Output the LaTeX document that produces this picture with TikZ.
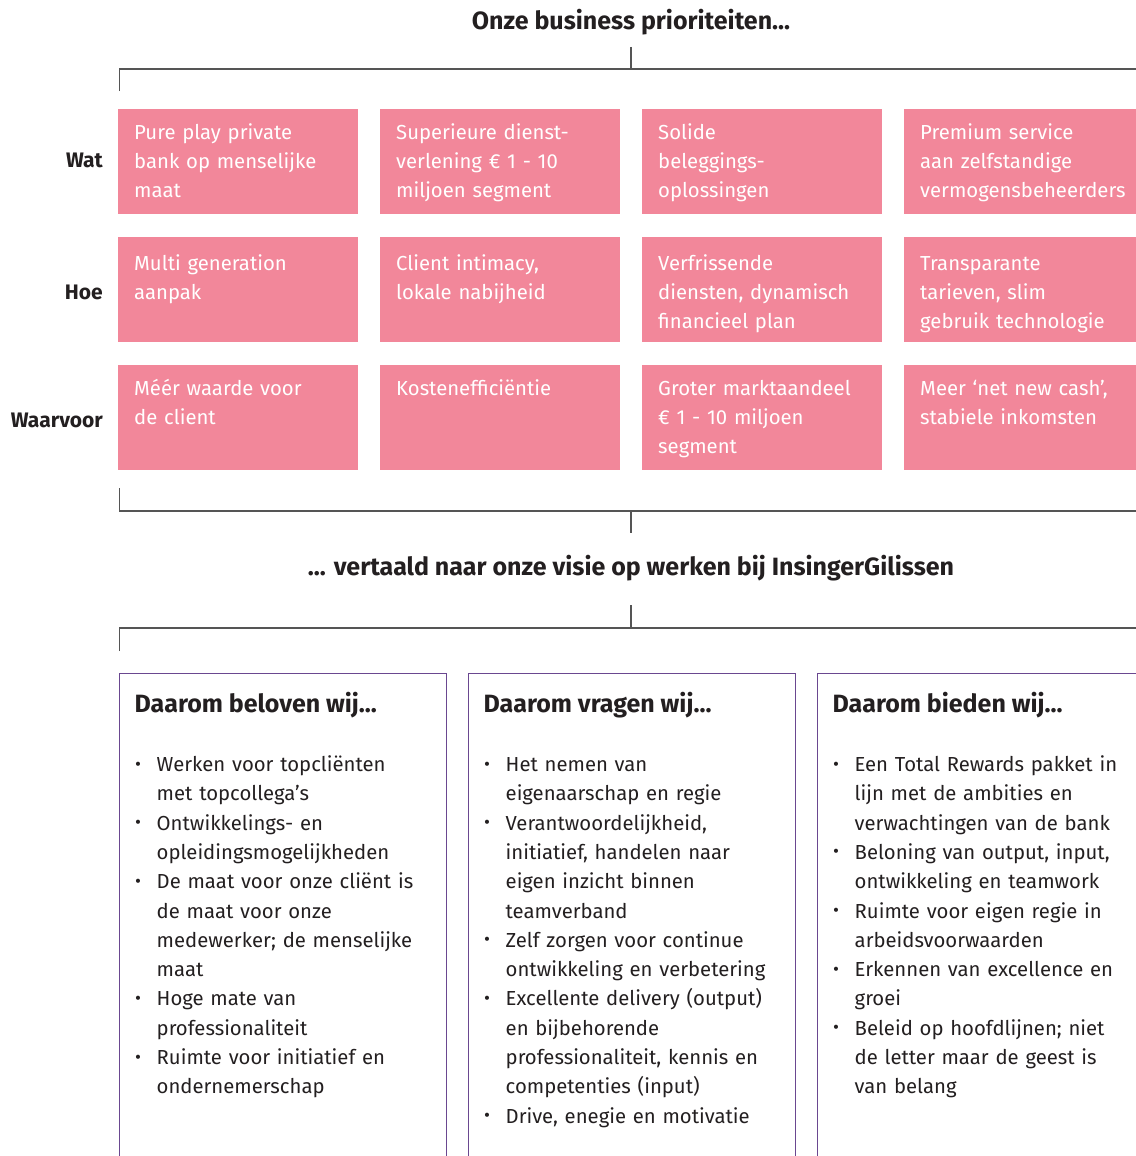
\documentclass[tikz,border=0pt]{standalone}
\usepackage{fontspec}
\setmainfont{Fira Sans}
\usetikzlibrary{positioning}

\definecolor{roze}{HTML}{F2879A}
\definecolor{paars}{HTML}{6A4790}
\definecolor{lijn}{HTML}{555555}
\definecolor{tekst}{HTML}{231F20}

% opsommingsteken met hangende inspringing
\newcommand{\punt}[1]{\hangindent=22pt\hangafter=1\noindent\makebox[22pt][l]{\hspace{0.5pt}\raisebox{1.5pt}{\scalebox{0.9}{\textbullet}}}#1\par}

\tikzset{
  prio/.style={rectangle,fill=roze,minimum width=240pt,minimum height=105pt,anchor=north west,inner sep=0pt},
  priotekst/.style={anchor=base west,text=white,inner sep=0pt,text width=235pt,align=left,font=\fontsize{20.3}{29.3}\selectfont},
  rij/.style={anchor=base east,inner sep=0pt,text=tekst,font=\bfseries\fontsize{21}{25}\selectfont},
  kop/.style={anchor=base,inner sep=0pt,text=tekst,font=\bfseries\fontsize{25}{29}\selectfont},
  visie/.style={rectangle,draw=paars,line width=1.3pt,minimum width=327pt,minimum height=540pt,anchor=north west,inner sep=0pt},
  visiekop/.style={anchor=base west,inner sep=0pt,text=tekst,font=\bfseries\fontsize{25}{29}\selectfont},
  lijst/.style={anchor=base west,inner sep=0pt,text=tekst,text width=322pt,font=\fontsize{20.3}{29.3}\selectfont},
  haak/.style={draw=lijn,line width=1.5pt},
}

\begin{document}
\begin{tikzpicture}[x=1pt,y=-1pt]
  \useasboundingbox (0,0) rectangle (1135,1156);

  % business prioriteiten
  \node[kop] (titel) at (631,30) {Onze business prioriteiten...};
  \coordinate (h1c) at (631,47);
  \coordinate (h1l) at (119.5,91);
  \coordinate (h1r) at (1140,69);
  \draw[haak] (h1c) -- (631,69);
  \draw[haak] (h1l) |- (h1r);

  \node[rij] (wat) at (103,167) {Wat};
  \node[rij] (hoe) at (103,299) {Hoe};
  \node[rij] (waarvoor) at (103,427) {Waarvoor};

  \node[prio] (wat1) at (118,109){};
  \node[prio] (wat2) at (380,109){};
  \node[prio] (wat3) at (642,109){};
  \node[prio,minimum width=260pt] (wat4) at (904,109){};
  \node[priotekst] (wat1t) at ([xshift=16pt,yshift=-30pt]wat1.north west) {Pure play private\\bank op menselijke\\maat};
  \node[priotekst] (wat2t) at ([xshift=16pt,yshift=-30pt]wat2.north west) {Superieure dienst-\\verlening € 1 - 10\\miljoen segment};
  \node[priotekst] (wat3t) at ([xshift=16pt,yshift=-30pt]wat3.north west) {Solide\\beleggings-\\oplossingen};
  \node[priotekst] (wat4t) at ([xshift=16pt,yshift=-30pt]wat4.north west) {Premium service\\aan zelfstandige\\vermogensbeheerders};

  \node[prio] (hoe1) at (118,237){};
  \node[prio] (hoe2) at (380,237){};
  \node[prio] (hoe3) at (642,237){};
  \node[prio,minimum width=260pt] (hoe4) at (904,237){};
  \node[priotekst] (hoe1t) at ([xshift=16pt,yshift=-33pt]hoe1.north west) {Multi generation\\aanpak};
  \node[priotekst] (hoe2t) at ([xshift=16pt,yshift=-33pt]hoe2.north west) {Client intimacy,\\lokale nabijheid};
  \node[priotekst] (hoe3t) at ([xshift=16pt,yshift=-33pt]hoe3.north west) {Verfrissende\\diensten, dynamisch\\financieel plan};
  \node[priotekst] (hoe4t) at ([xshift=16pt,yshift=-33pt]hoe4.north west) {Transparante\\tarieven, slim\\gebruik technologie};

  \node[prio] (waarvoor1) at (118,365){};
  \node[prio] (waarvoor2) at (380,365){};
  \node[prio] (waarvoor3) at (642,365){};
  \node[prio,minimum width=260pt] (waarvoor4) at (904,365){};
  \node[priotekst] (waarvoor1t) at ([xshift=16pt,yshift=-30pt]waarvoor1.north west) {Méér waarde voor\\de client};
  \node[priotekst] (waarvoor2t) at ([xshift=16pt,yshift=-30pt]waarvoor2.north west) {Kostenefficiëntie};
  \node[priotekst] (waarvoor3t) at ([xshift=16pt,yshift=-30pt]waarvoor3.north west) {Groter marktaandeel\\€ 1 - 10 miljoen\\segment};
  \node[priotekst] (waarvoor4t) at ([xshift=16pt,yshift=-30pt]waarvoor4.north west) {Meer ‘net new cash’,\\stabiele inkomsten};

  \coordinate (h2l) at (119.5,488);
  \coordinate (h2r) at (1140,511);
  \coordinate (h2c) at (631,533);
  \draw[haak] (h2l) |- (h2r);
  \draw[haak] (631,511) -- (h2c);

  % visie op werken
  \node[kop] (vertaald) at (631,575) {... vertaald naar onze visie op werken bij InsingerGilissen};
  \coordinate (h3c) at (631,605);
  \coordinate (h3l) at (119.5,651);
  \coordinate (h3r) at (1140,628);
  \draw[haak] (h3c) -- (631,628);
  \draw[haak] (h3l) |- (h3r);

  \node[visie] (beloven) at (118.5,673){};
  \node[visie] (vragen) at (467.5,673){};
  \node[visie] (bieden) at (816.5,673){};

  \node[visiekop] (belovenkop) at ([xshift=16pt,yshift=-39.5pt]beloven.north west) {Daarom beloven wij...};
  \node[visiekop] (vragenkop) at ([xshift=16pt,yshift=-39.5pt]vragen.north west) {Daarom vragen wij...};
  \node[visiekop] (biedenkop) at ([xshift=16pt,yshift=-39.5pt]bieden.north west) {Daarom bieden wij...};

  \node[lijst] (belovenlijst) at ([xshift=16pt,yshift=-98.5pt]beloven.north west) {%
    \punt{Werken voor topcliënten\newline met topcollega’s}
    \punt{Ontwikkelings- en\newline opleidingsmogelijkheden}
    \punt{De maat voor onze cliënt is\newline de maat voor onze\newline medewerker; de menselijke\newline maat}
    \punt{Hoge mate van\newline professionaliteit}
    \punt{Ruimte voor initiatief en\newline ondernemerschap}};
  \node[lijst] (vragenlijst) at ([xshift=16pt,yshift=-98.5pt]vragen.north west) {%
    \punt{Het nemen van\newline eigenaarschap en regie}
    \punt{Verantwoordelijkheid,\newline initiatief, handelen naar\newline eigen inzicht binnen\newline teamverband}
    \punt{Zelf zorgen voor continue\newline ontwikkeling en verbetering}
    \punt{Excellente delivery (output)\newline en bijbehorende\newline professionaliteit, kennis en\newline competenties (input)}
    \punt{Drive, enegie en motivatie}};
  \node[lijst] (biedenlijst) at ([xshift=16pt,yshift=-98.5pt]bieden.north west) {%
    \punt{Een Total Rewards pakket in\newline lijn met de ambities en\newline verwachtingen van de bank}
    \punt{Beloning van output, input,\newline ontwikkeling en teamwork}
    \punt{Ruimte voor eigen regie in\newline arbeidsvoorwaarden}
    \punt{Erkennen van excellence en\newline groei}
    \punt{Beleid op hoofdlijnen; niet\newline de letter maar de geest is\newline van belang}};

\end{tikzpicture}
\end{document}
